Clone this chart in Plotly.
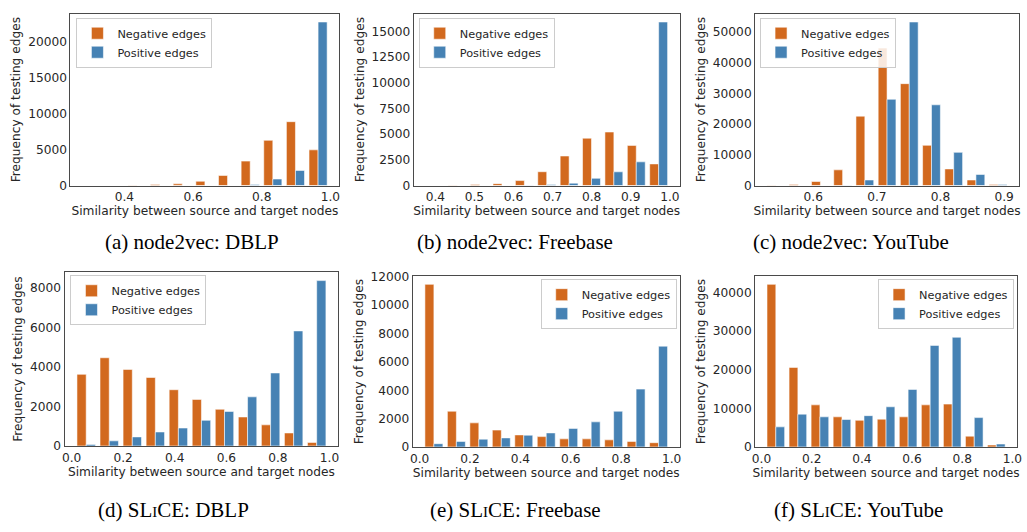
import numpy as np
import plotly.graph_objects as go

NEG_COLOR = "#D2691E"
POS_COLOR = "#4682B4"
N_BINS = 11

# Panel captions
captions = ["(a) node2vec: DBLP", "(b) node2vec: Freebase", "(c) node2vec: YouTube",
            "(d) SL<span style='font-size:15px'>I</span>CE: DBLP",
            "(e) SL<span style='font-size:15px'>I</span>CE: Freebase",
            "(f) SL<span style='font-size:15px'>I</span>CE: YouTube"]

# Similarity range covered by the histogram bins (min, max)
range_a = (0.272, 0.997)
range_b = (0.370, 1.000)
range_c = (0.524, 0.908)
range_d = (0.012, 0.995)
range_e = (0.012, 0.993)
range_f = (0.013, 0.980)

# Counts per bin (11 bins)
neg_a = [3, 10, 30, 130, 230, 590, 1400, 3400, 6300, 8900, 4970]
pos_a = [0, 0, 0, 0, 0, 0, 10, 150, 900, 2100, 22800]
neg_b = [5, 20, 100, 180, 480, 1340, 2870, 4600, 5200, 3900, 2100]
pos_b = [0, 0, 0, 0, 20, 100, 230, 700, 1330, 2300, 15900]
neg_c = [50, 300, 1300, 5100, 22600, 44800, 33200, 13100, 5400, 1800, 300]
pos_c = [0, 0, 0, 60, 1800, 28100, 53300, 26300, 10800, 3600, 300]
neg_d = [3630, 4470, 3880, 3470, 2850, 2360, 1860, 1470, 1070, 660, 180]
pos_d = [80, 260, 460, 710, 910, 1300, 1750, 2490, 3700, 5830, 8380]
neg_e = [11470, 2520, 1700, 1190, 850, 730, 570, 570, 500, 390, 300]
pos_e = [230, 390, 550, 640, 830, 990, 1310, 1770, 2520, 4080, 7110]
neg_f = [42100, 20600, 10900, 7800, 6900, 7200, 7800, 10900, 11100, 2800, 500]
pos_f = [5200, 8500, 7800, 7100, 8100, 10400, 14900, 26300, 28400, 7600, 760]

# Tick settings
x_dtick = [0.2, 0.1, 0.1, 0.2, 0.2, 0.2]
y_dtick = [5000, 2500, 10000, 2000, 2000, 10000]

ranges = [range_a, range_b, range_c, range_d, range_e, range_f]
negs = [neg_a, neg_b, neg_c, neg_d, neg_e, neg_f]
poss = [pos_a, pos_b, pos_c, pos_d, pos_e, pos_f]

W, H = 1027, 532
# plot-area boxes in pixels: left, right, top, bottom
boxes = [(68, 339, 8, 184), (414, 682, 8, 184), (758, 1024, 8, 184),
         (62, 338, 273, 451), (413, 682, 277, 452), (758, 1022, 277, 452)]
# legend anchors in pixels: x, y, xanchor
legend_pos = [(74, 12, "left"), (419, 12, "left"), (763, 12, "left"),
              (68, 276, "left"), (679, 280, "right"), (1019, 280, "right")]
caption_pos = [(190, 242), (516, 242), (855, 242), (172, 517), (517, 517), (862, 517)]

font_fam = "DejaVu Sans"
tick_font = dict(family=font_fam, size=12.2, color="#262626")
title_font = dict(family=font_fam, size=12.2, color="#262626")

fig = go.Figure()
layout = dict(width=W, height=H, margin=dict(l=0, r=0, t=0, b=0),
              paper_bgcolor="white", plot_bgcolor="white",
              barmode="group", bargap=0.2, bargroupgap=0.0,
              annotations=[])

for i in range(6):
    lo, hi = ranges[i]
    edges = np.linspace(lo, hi, N_BINS + 1)
    w = edges[1] - edges[0]
    centers = (edges[:-1] + edges[1:]) / 2
    sfx = "" if i == 0 else str(i + 1)
    leg = "legend" if i == 0 else f"legend{i + 1}"
    for name, vals, col in [("Negative edges", negs[i], NEG_COLOR),
                            ("Positive edges", poss[i], POS_COLOR)]:
        fig.add_trace(go.Bar(x=centers, y=vals, name=name, xaxis="x" + sfx, yaxis="y" + sfx,
                             marker=dict(color=col, line=dict(color="rgba(255,255,255,0.55)", width=1)),
                             legend=leg, offsetgroup=name))
    left_ext = edges[0] + 0.1 * w
    right_ext = edges[-1] - 0.1 * w
    span = right_ext - left_ext
    xr = [left_ext - 0.05 * span, right_ext + 0.05 * span]
    ymax = max(max(negs[i]), max(poss[i])) * 1.05
    l, r, t, b = boxes[i]
    axis_common = dict(showline=True, linecolor="#4a4a4a", linewidth=1, mirror=True,
                       showgrid=False, zeroline=False, ticks="", tickfont=tick_font)
    layout["xaxis" + sfx] = dict(domain=[l / W, r / W], anchor="y" + sfx, range=xr,
                                 dtick=x_dtick[i], tick0=0, tickformat=".1f",
                                 title=dict(text="Similarity between source and target nodes",
                                            font=title_font, standoff=1),
                                 **axis_common)
    layout["yaxis" + sfx] = dict(domain=[1 - b / H, 1 - t / H], anchor="x" + sfx, range=[0, ymax],
                                 dtick=y_dtick[i], tickformat="d",
                                 title=dict(text="Frequency of testing edges",
                                            font=title_font, standoff=4),
                                 **axis_common)
    lx, ly, xa = legend_pos[i]
    layout[leg] = dict(x=lx / W, y=1 - ly / H, xanchor=xa, yanchor="top",
                       xref="paper", yref="paper",
                       bgcolor="rgba(255,255,255,0.85)", bordercolor="#cccccc", borderwidth=1,
                       font=dict(family=font_fam, size=11.3, color="#262626"),
                       tracegroupgap=0, itemwidth=30)
    cx, cy = caption_pos[i]
    layout["annotations"].append(dict(text=captions[i], x=cx / W, y=1 - cy / H,
                                      xref="paper", yref="paper", showarrow=False,
                                      xanchor="center", yanchor="middle",
                                      font=dict(family="Liberation Serif", size=21, color="black")))

fig.update_layout(**layout)
fig.write_html("out.html")
